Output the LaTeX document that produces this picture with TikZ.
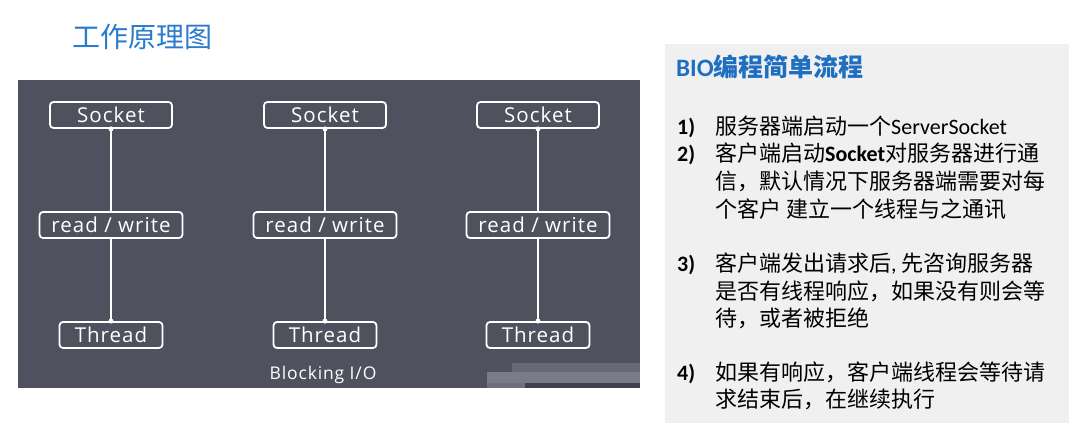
\documentclass[tikz,border=0pt]{standalone}
\usepackage{fontspec}
\setmainfont{Open Sans}[LetterSpace=5]
\newfontfamily\cjk{Noto Sans CJK SC}
\newfontfamily\lat{Carlito}
\definecolor{panel}{HTML}{4F515F}
\definecolor{lightpanel}{HTML}{F0F0F0}
\definecolor{titleblue}{HTML}{2A7BCB}
\definecolor{headblue}{HTML}{1F6FC0}
\definecolor{blurA}{HTML}{686977}
\definecolor{blurB}{HTML}{7A7B88}
\definecolor{blurC}{HTML}{3F404C}
\tikzset{
  box/.style={draw=white, line width=1.8pt, rounded corners=3.5pt, text=white,
    minimum height=26pt, inner sep=0pt, font=\fontsize{20.5}{22}\selectfont},
  sockbox/.style={box, minimum width=122pt},
  rwbox/.style={box, minimum width=143pt},
  thrbox/.style={box, minimum width=103pt},
  wire/.style={draw=white, line width=1.8pt},
  joint/.style={fill=white, circle, inner sep=0pt, minimum size=5pt},
  txt/.style={anchor=base west, inner sep=0pt, text=black, font=\fontsize{22}{24}\cjk},
  num/.style={anchor=base west, inner sep=0pt, text=black, font=\fontsize{22}{24}\lat\bfseries},
}
\begin{document}
\begin{tikzpicture}[x=1pt,y=-1pt]
\useasboundingbox (0,0) rectangle (1077,427);
\fill[white] (0,0) rectangle (1077,427);
% title
\node[anchor=base west, inner sep=0pt, text=titleblue, font=\fontsize{28}{30}\cjk] (title) at (72,48) {工作原理图};
% dark panel
\fill[panel] (18,80) rectangle (640,388);
% blurred patch
\fill[blurA] (512,363) rectangle (640,372);
\fill[blurB] (487,372) rectangle (640,383);
\fill[blurA!60!blurB] (487,383) rectangle (525,388);
\fill[blurC] (525,383) rectangle (640,388);
% columns
\foreach \c/\x in {a/111,b/325,c/538}{
  \node[sockbox] (s\c) at (\x,115) {Socket};
  \node[rwbox] (r\c) at (\x,225) {read / write};
  \node[thrbox] (t\c) at (\x,335) {Thread};
  \draw[wire] (s\c.south) -- (r\c.north);
  \draw[wire] (r\c.south) -- (t\c.north);
  \node[joint] at (s\c.south) {};
  \node[joint] at (t\c.north) {};
}
\node[text=white, inner sep=0pt, font=\fontsize{17.5}{19}\selectfont] (blk) at (323,375) {Blocking I/O};
% right panel
\fill[lightpanel] (665,44) rectangle (1069,423);
\node[anchor=base west, inner sep=0pt, text=headblue, font=\fontsize{25}{27}\cjk\bfseries] (head) at (676,77) {{\lat\bfseries BIO}编程简单流程};
\node[num] (n1) at (677,135) {1)};
\node[txt] (l1) at (715,135) {服务器端启动一个{\lat ServerSocket}};
\node[num] (n2) at (677,162) {2)};
\node[txt] (l2) at (715,162) {客户端启动{\lat\bfseries Socket}对服务器进行通};
\node[txt] (l3) at (715,190) {信，默认情况下服务器端需要对每};
\node[txt] (l4) at (715,218) {个客户 建立一个线程与之通讯};
\node[num] (n3) at (677,272) {3)};
\node[txt] (l5) at (715,272) {客户端发出请求后{\lat ,} 先咨询服务器};
\node[txt] (l6) at (715,300) {是否有线程响应，如果没有则会等};
\node[txt] (l7) at (715,327) {待，或者被拒绝};
\node[num] (n4) at (677,381) {4)};
\node[txt] (l8) at (715,381) {如果有响应，客户端线程会等待请};
\node[txt] (l9) at (715,408) {求结束后，在继续执行};
\end{tikzpicture}
\end{document}
